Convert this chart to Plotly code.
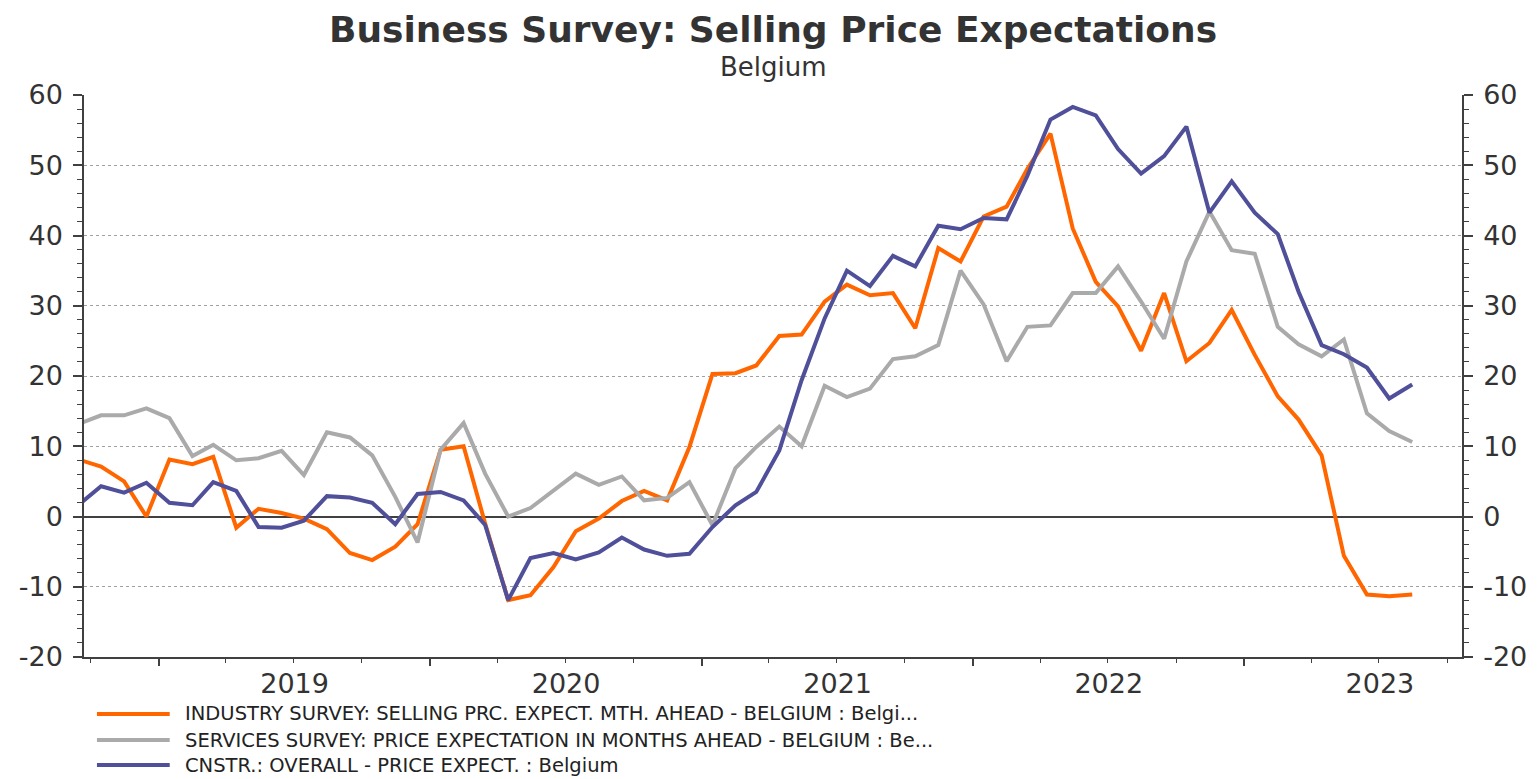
import pandas as pd
import plotly.graph_objects as go

# ---- data (monthly, Sep 2018 .. Aug 2023) ----
months = (pd.date_range("2018-09-01", periods=60, freq="MS") + pd.Timedelta(days=14)).strftime("%Y-%m-%d").tolist()

industry = [8.1, 7.1, 5.0, 0.0,
            8.1, 7.45, 8.5, -1.6, 1.1, 0.5, -0.3, -1.8, -5.2, -6.2, -4.3, -1.1,
            9.5, 10.0, -1.0, -11.9, -11.2, -7.2, -2.1, -0.3, 2.2, 3.65, 2.3, 9.9,
            20.3, 20.4, 21.5, 25.7, 25.9, 30.6, 33.0, 31.5, 31.8, 26.8, 38.2, 36.3,
            42.7, 44.1, 49.5, 54.5, 41.0, 33.4, 29.9, 23.6, 31.8, 22.1, 24.7, 29.4,
            23.0, 17.1, 13.8, 8.7, -5.6, -11.1, -11.35, -11.1]

services = [13.2, 14.4, 14.4, 15.4,
            14.0, 8.6, 10.2, 8.0, 8.3, 9.35, 5.9, 12.0, 11.25, 8.7, 2.8, -3.7,
            9.5, 13.3, 6.1, 0.0, 1.2, 3.65, 6.1, 4.5, 5.7, 2.3, 2.65, 4.9,
            -1.25, 6.9, 9.9, 12.8, 10.0, 18.6, 17.0, 18.2, 22.4, 22.8, 24.4, 35.0,
            30.2, 22.1, 27.0, 27.2, 31.8, 31.8, 35.6, 30.6, 25.3, 36.3, 43.4, 37.9,
            37.4, 27.0, 24.5, 22.8, 25.2, 14.7, 12.15, 10.6]

construction = [1.7, 4.3, 3.4, 4.8,
                1.95, 1.6, 4.9, 3.65, -1.5, -1.6, -0.6, 2.9, 2.7, 1.95, -1.1, 3.2,
                3.5, 2.3, -1.2, -11.9, -5.9, -5.2, -6.1, -5.1, -3.0, -4.7, -5.6, -5.3,
                -1.5, 1.6, 3.5, 9.4, 19.4, 28.2, 35.0, 32.8, 37.1, 35.6, 41.4, 40.9,
                42.5, 42.3, 48.5, 56.5, 58.3, 57.1, 52.3, 48.8, 51.3, 55.5, 43.25, 47.7,
                43.25, 40.2, 32.0, 24.4, 23.1, 21.2, 16.8, 18.8]

series_names = [
    "INDUSTRY SURVEY: SELLING PRC. EXPECT. MTH. AHEAD - BELGIUM : Belgi...",
    "SERVICES SURVEY: PRICE EXPECTATION IN MONTHS AHEAD - BELGIUM : Be...",
    "CNSTR.: OVERALL - PRICE EXPECT. : Belgium",
]
series_values = [industry, services, construction]
series_colors = ["#FF6600", "#AAAAAA", "#4F4F9A"]

y_tickvals = [-20, -10, 0, 10, 20, 30, 40, 50, 60]
y_ticktext = ["-20", "-10", "0", "10", "20", "30", "40", "50", "60"]

title_text = "Business Survey: Selling Price Expectations"
subtitle_text = "Belgium"

FONT = "DejaVu Sans"
TXT = "#333333"
AX = "#404040"

fig = go.Figure()
for i, (name, vals, col) in enumerate(zip(series_names, series_values, series_colors)):
    fig.add_trace(go.Scatter(
        x=months, y=vals, name=name, mode="lines",
        line=dict(color=col, width=4),
        yaxis="y2" if i == 2 else "y",
        showlegend=False,
    ))

yaxis_common = dict(
    range=[-20, 60], tickmode="array", tickvals=y_tickvals, ticktext=y_ticktext,
    showline=True, linecolor=AX, linewidth=1.5,
    ticks="outside", ticklen=9, tickwidth=1.5, tickcolor=AX,
    minor=dict(dtick=2, tick0=0, ticks="outside", ticklen=5, tickwidth=1.2, tickcolor=AX, showgrid=False),
    tickfont=dict(family=FONT, size=27, color=TXT),
    ticklabelstandoff=5,
    fixedrange=True,
)

fig.update_layout(
    width=1539, height=779,
    margin=dict(l=84, r=72, t=95, b=122),
    paper_bgcolor="white", plot_bgcolor="white",
    showlegend=False,
    xaxis=dict(
        type="date",
        range=["2018-09-22", "2023-10-21"],
        showgrid=False,
        showline=True, linecolor=AX, linewidth=1.5,
        ticks="outside", ticklen=7, tickwidth=1.5, tickcolor=AX,
        dtick="M12", tick0="2019-01-01",
        ticklabelmode="period", tickformat="%Y",
        minor=dict(dtick="M3", tick0="2018-10-01", ticks="outside", ticklen=4, tickwidth=1.2, tickcolor=AX),
        tickfont=dict(family=FONT, size=27, color=TXT),
        ticklabelstandoff=-5,
        zeroline=False,
        fixedrange=True,
    ),
    yaxis=dict(
        **yaxis_common,
        side="left",
        showgrid=True, gridcolor="#A0A0A0", gridwidth=1, griddash="dot",
        zeroline=True, zerolinecolor=AX, zerolinewidth=1.5,
    ),
    yaxis2=dict(
        **yaxis_common,
        side="right", overlaying="y",
        showgrid=False, zeroline=False,
    ),
)

# Title and subtitle
fig.add_annotation(text=title_text, xref="paper", yref="paper", x=0.5, y=1.117,
                   xanchor="center", yanchor="middle", showarrow=False,
                   font=dict(family=FONT, size=36, color=TXT, weight="bold"))
fig.add_annotation(text=subtitle_text, xref="paper", yref="paper", x=0.5, y=1.050,
                   xanchor="center", yanchor="middle", showarrow=False,
                   font=dict(family=FONT, size=26, color=TXT))

# Custom legend below plot
legend_rows = [-0.1014, -0.1477, -0.1922]
for name, col, yrow in zip(series_names, series_colors, legend_rows):
    fig.add_shape(type="line", xref="paper", yref="paper",
                  x0=0.0094, x1=0.0622, y0=yrow, y1=yrow,
                  line=dict(color=col, width=4))
    fig.add_annotation(text=name, xref="paper", yref="paper", x=0.0716, y=yrow,
                       xanchor="left", yanchor="middle", showarrow=False,
                       font=dict(family=FONT, size=19.5, color="#222222"))

fig.write_html("out.html",
               config={"displayModeBar": False},
               post_script="document.body.style.margin='0';document.body.style.overflow='hidden';")
